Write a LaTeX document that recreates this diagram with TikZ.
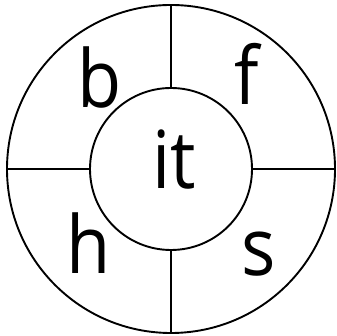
\documentclass[tikz,border=0pt]{standalone}
\usepackage{fontspec}
\setmainfont{Open Sans}[FakeStretch=0.9]
\begin{document}
\begin{tikzpicture}[x=1pt,y=1pt,
  ring/.style={draw=black,line width=1.9pt,circle,inner sep=0pt,outer sep=0pt},
  lbl/.style={anchor=base,inner sep=0pt,font=\fontsize{80}{80}\selectfont},
  spoke/.style={draw=black,line width=1.9pt}]
\useasboundingbox (0,0) rectangle (336,336);
\node[ring,minimum size=328pt] (outer) at (171,167) {};
\node[ring,minimum size=162pt] (inner) at (171,167) {};
\draw[spoke] (inner.north) -- (outer.north);
\draw[spoke] (inner.south) -- (outer.south);
\draw[spoke] (inner.west) -- (outer.west);
\draw[spoke] (inner.east) -- (outer.east);
\node[lbl] (b) at (100,228) {b};
\node[lbl] (f) at (247,231) {f};
\node[lbl] (it) at (174,147) {it};
\node[lbl] (h) at (89,62) {h};
\node[lbl] (s) at (259,60) {s};
\end{tikzpicture}
\end{document}
